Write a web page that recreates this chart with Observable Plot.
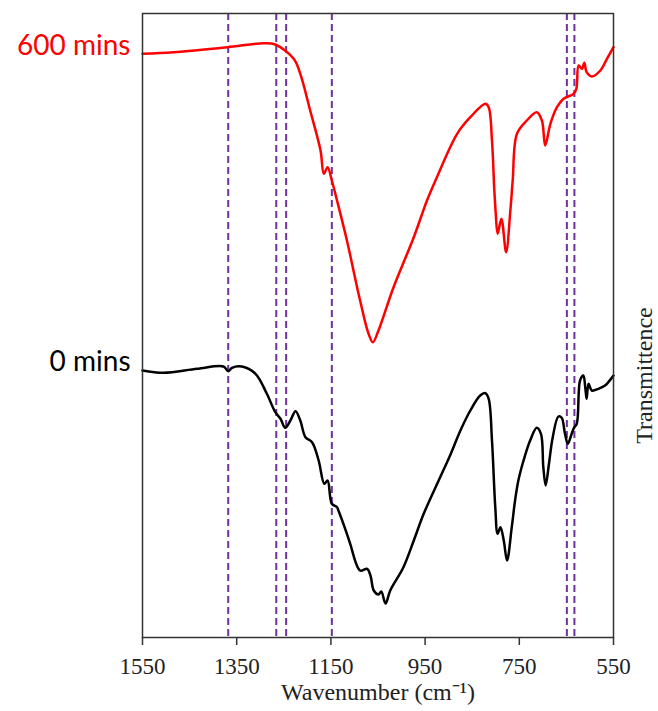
<!DOCTYPE html>
<html>
<head>
<meta charset="utf-8">
<script src="https://cdn.jsdelivr.net/npm/d3@7"></script>
<script src="https://cdn.jsdelivr.net/npm/@observablehq/plot@0.6"></script>
<style>
  html, body { margin: 0; padding: 0; background: #fff; }
</style>
</head>
<body>
<div id="chart"></div>
<script>
// Wavenumbers (cm-1) and transmittance (arbitrary, offset)
const wave600 = [1550,1484,1370,1293,1268,1229,1215,1194,1172,1165,1157,1148,1137,1116,1088,1070,1061,1049,1017,974,946,928,882,854,822,815,808,803,800,796,788,778,769,764,755,734,713,702,695,684,670,656,635,629,624,617,612,607,596,578,564,550];
const trans600 = [583.7,585.3,590.3,594.3,593,578.7,563.7,527,487,463.7,470.3,457,437,397,337,303.7,295.3,307,350.3,400.3,437,457,503.7,520.3,533.7,530.3,497,447,424,403.7,418.7,385.3,427,457,503.7,517,525.3,517,492,513.7,530.3,538.7,543.7,548.7,572,568.7,574.7,565.3,561,567,578.7,590.3];

const wave0 = [1550,1505,1434,1378,1368,1360,1339,1310,1286,1268,1257,1247,1236,1225,1215,1204,1190,1176,1164,1157,1148,1137,1134,1116,1109,1088,1073,1066,1059,1049,1043,1034,1024,996,974,953,918,897,875,854,833,822,815,808,801,796,790,783,776,766,759,752,741,727,713,704,699,694,687,679,667,660,653,647,640,634,628,621,614,610,607,603,596,582,568,561,550];
const trans0 = [267,264.7,268.7,271,266.3,269.7,271,263.7,243.7,225.3,218.7,209.7,217,226.3,217,200.3,195.3,177,153.7,157,133.7,130.3,127,103.7,93.7,67,68.7,62,47,43,46,34,47,70.3,97,123.7,160.3,182,207,227,242,244.3,238.7,197,130.3,103.7,110.3,97,77,110.3,137,157,177,197,209.7,203.7,170.3,152,173.7,200.3,221,219.7,203.7,193.7,202,209.7,213.7,257,262,250.3,238.7,253.7,247,248.7,252,255.3,262];

const seriesNames = ["600 mins", "0 mins"];
const seriesColors = ["#ff0000", "#000000"];
const markerLines = [1368, 1266, 1245, 1148, 649, 633];
const xTicks = [1550, 1350, 1150, 950, 750, 550];
const xLabel = "Wavenumber (cm\u207B\u00B9)";
const yLabel = "Transmittence";

const s600 = wave600.map((w, i) => ({w, t: trans600[i]}));
const s0 = wave0.map((w, i) => ({w, t: trans0[i]}));
const starts = [
  {name: seriesNames[0], color: seriesColors[0], w: wave600[0], t: trans600[0]},
  {name: seriesNames[1], color: seriesColors[1], w: wave0[0], t: trans0[0]}
];

const serif = "Liberation Serif";
const plot = Plot.plot({
  width: 658,
  height: 711,
  marginLeft: 142,
  marginRight: 45,
  marginTop: 13,
  marginBottom: 74,
  style: {background: "#fff", overflow: "visible", fontFamily: serif},
  x: {domain: [1550, 550]},
  y: {domain: [0, 624]},
  marks: [
    Plot.ruleX(markerLines, {stroke: "#7030a0", strokeWidth: 2, strokeDasharray: "7,4"}),
    Plot.line(s600, {x: "w", y: "t", stroke: seriesColors[0], strokeWidth: 2.5, curve: "catmull-rom"}),
    Plot.line(s0, {x: "w", y: "t", stroke: seriesColors[1], strokeWidth: 2.5, curve: "catmull-rom"}),
    Plot.frame({stroke: "#333", strokeWidth: 1.5}),
    Plot.axisX({ticks: xTicks, tickFormat: d => String(d), tickSize: 8, tickPadding: 12, fontSize: 23, fontFamily: serif, fill: "#222", label: null, stroke: "#333", strokeWidth: 1.5}),
    Plot.axisY({ticks: [], label: null}),
    Plot.text([xLabel], {frameAnchor: "bottom", dy: 62, fontSize: 24, fontFamily: serif, fill: "#222"}),
    Plot.text([yLabel], {frameAnchor: "right", textAnchor: "middle", dx: 31, dy: 50, rotate: -90, fontSize: 24, fontFamily: serif, fill: "#222"}),
    Plot.text(starts, {x: "w", y: "t", text: "name", fill: "color", textAnchor: "end", dx: -12, dy: -8, fontSize: 28, fontFamily: "Lato"})
  ]
});
// ensure serif font on axis tick labels
d3.select(plot).selectAll("g[aria-label='x-axis tick label'] text").style("font-family", "'Liberation Serif', serif");
document.getElementById("chart").appendChild(plot);
</script>
</body>
</html>
